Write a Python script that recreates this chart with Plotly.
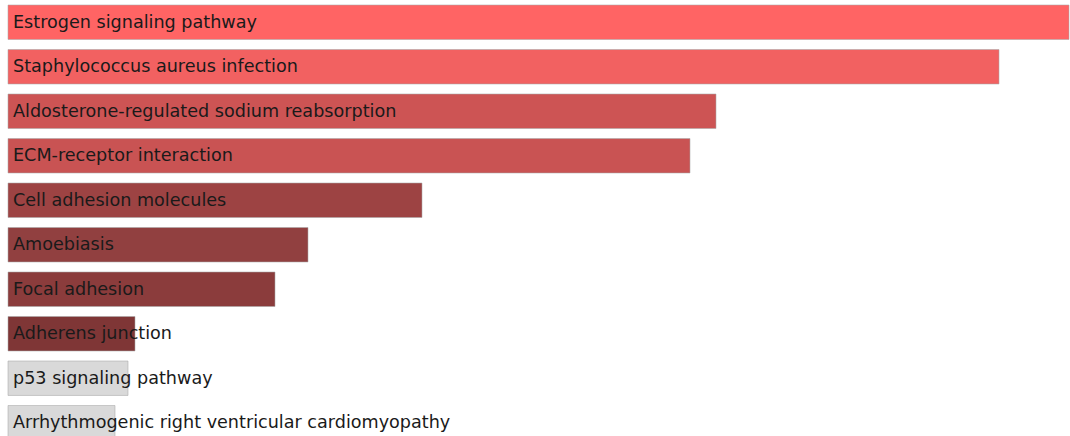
import plotly.graph_objects as go

# Enriched pathways, ordered from top to bottom
terms = [
    "Estrogen signaling pathway",
    "Staphylococcus aureus infection",
    "Aldosterone-regulated sodium reabsorption",
    "ECM-receptor interaction",
    "Cell adhesion molecules",
    "Amoebiasis",
    "Focal adhesion",
    "Adherens junction",
    "p53 signaling pathway",
    "Arrhythmogenic right ventricular cardiomyopathy",
]
scores = [10.61, 9.91, 7.08, 6.82, 4.14, 3.00, 2.67, 1.27, 1.20, 1.07]
bar_colors = [
    "#ff6464", "#f26161", "#cd5454", "#c95353", "#9d4343",
    "#914040", "#8b3c3c", "#7f3636", "#d9d9d9", "#d9d9d9",
]

positions = list(range(len(terms)))

fig = go.Figure()
fig.add_trace(go.Bar(
    x=scores,
    y=positions,
    orientation="h",
    width=0.775,
    marker=dict(color=bar_colors, line=dict(color="rgba(170,170,170,0.55)", width=1)),
    hoverinfo="skip",
))
fig.add_trace(go.Scatter(
    x=[0.05] * len(terms),
    y=[p + 0.03 for p in positions],
    mode="text",
    text=terms,
    textposition="middle right",
    textfont=dict(family="DejaVu Sans", size=17.6, color="#1a1a1a"),
    hoverinfo="skip",
))

fig.update_layout(
    width=1070,
    height=436,
    margin=dict(l=0, r=0, t=0, b=0),
    paper_bgcolor="white",
    plot_bgcolor="white",
    showlegend=False,
    xaxis=dict(range=[-0.08, 10.62], visible=False, fixedrange=True),
    yaxis=dict(range=[9.298, -0.5], visible=False, fixedrange=True),
)

fig.write_html("out.html")
